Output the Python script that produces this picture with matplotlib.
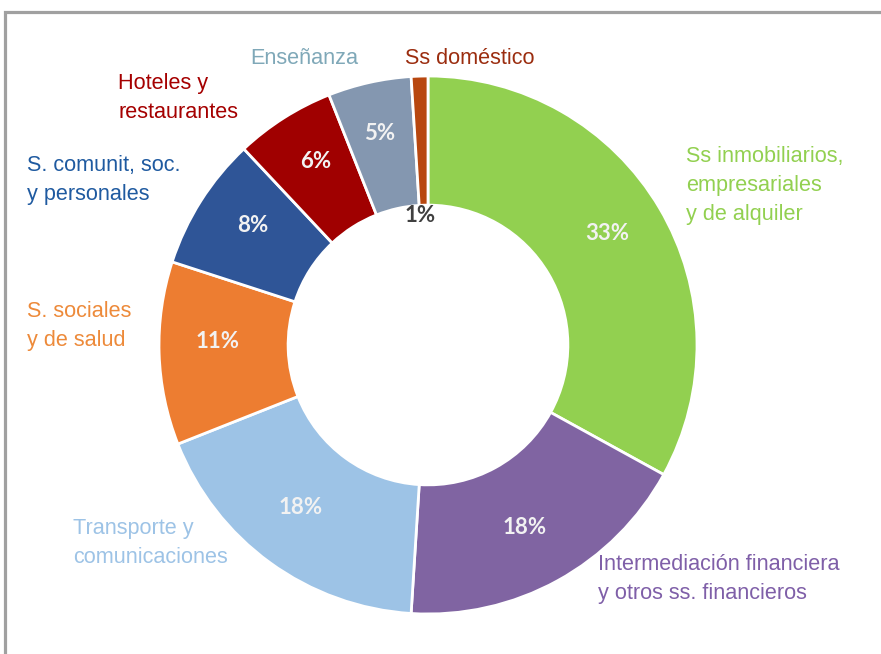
import matplotlib
matplotlib.use("Agg")
import matplotlib.pyplot as plt
from matplotlib.patches import Rectangle

categories = ["Ss inmobiliarios,\nempresariales\ny de alquiler",
              "Intermediación financiera\ny otros ss. financieros",
              "Transporte y\ncomunicaciones",
              "S. sociales\ny de salud",
              "S. comunit, soc.\ny personales",
              "Hoteles y\nrestaurantes",
              "Enseñanza",
              "Ss doméstico"]
values = [33, 18, 18, 11, 8, 6, 5, 1]
pct_labels = ["33%", "18%", "18%", "11%", "8%", "6%", "5%", "1%"]

wedge_colors = ["#92D050", "#8064A2", "#9DC3E6", "#ED7D31",
                "#2F5597", "#A00000", "#8497B0", "#B8470F"]
text_colors = ["#92D050", "#7F5FA8", "#9DC3E6", "#ED8A3A",
               "#1F5AA0", "#A50000", "#7FA8B8", "#9B2D0F"]

W, H = 881, 654
fig = plt.figure(figsize=(W / 100, H / 100), dpi=100)
ax = fig.add_axes([0, 0, 1, 1])

def py(y):
    return H - y

cx, cy, R = 428, py(345), 269
wedges, _ = ax.pie(values, colors=wedge_colors, startangle=90, counterclock=False,
                   center=(cx, cy), radius=R, frame=True,
                   wedgeprops=dict(width=R * 0.48, edgecolor="white", linewidth=2))
ax.set_xlim(0, W)
ax.set_ylim(0, H)
ax.set_aspect("equal")
ax.axis("off")

# percentage labels
pct_pos = [(607, 233), (525, 527), (301, 508), (218, 342),
           (253, 225), (316, 162), (380, 134), (420, 216)]
for i, (lab, (x, y)) in enumerate(zip(pct_labels, pct_pos)):
    col = "#404040" if i == 7 else "#F2F2F2"
    ax.text(x, py(y), lab, ha="center", va="center", fontsize=16,
            fontweight="bold", family="Lato", color=col)

# category labels (left x, first-line center y)
cat_pos = [(686, 155), (598, 563), (73, 527), (27, 310),
           (27, 164), (118, 82), (250, 57), (405, 57)]
for lab, (x, y), col in zip(categories, cat_pos, text_colors):
    ax.text(x, py(y) + 9, lab, ha="left", va="top", fontsize=15.6,
            family="Liberation Sans", color=col, linespacing=1.5)

# frame
fig.patches.append(Rectangle((4.5 / W, -0.1), 1.2, (H - 11.5) / H + 0.1,
                             transform=fig.transFigure, fill=False,
                             edgecolor="#A0A0A0", linewidth=2.3))

fig.savefig("out.png", dpi=100)
